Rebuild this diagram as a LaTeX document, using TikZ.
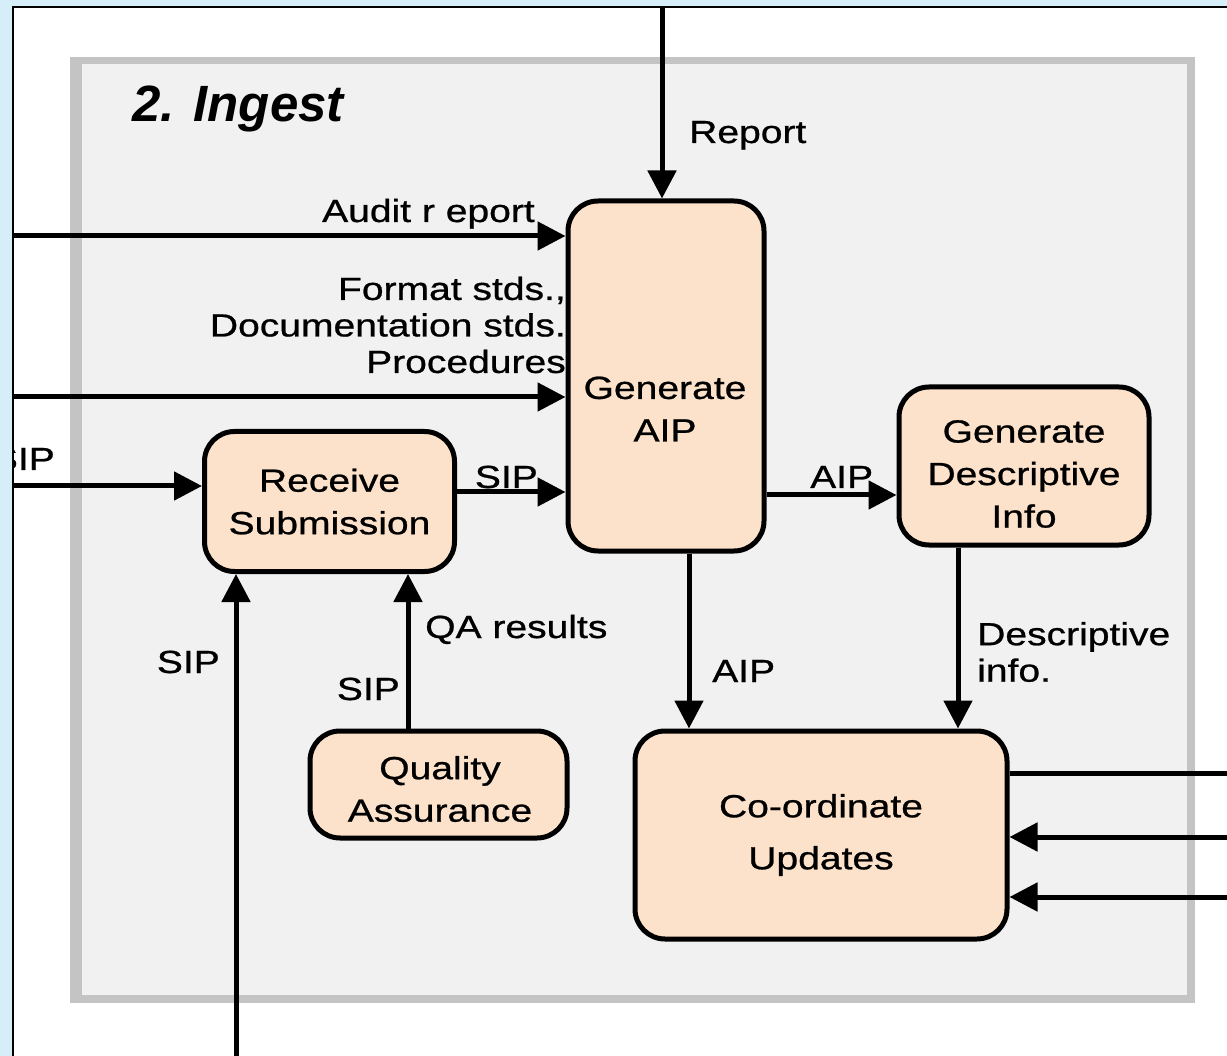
\documentclass[tikz,border=0pt]{standalone}
\usepackage{fontspec}
\setmainfont{Liberation Sans}[FakeStretch=1.22,FakeBold=0.8]
\newfontfamily\titlefont{Liberation Sans}
\usetikzlibrary{arrows.meta}
\definecolor{bgblue}{RGB}{214,238,247}
\definecolor{panelborder}{RGB}{196,196,196}
\definecolor{panelfill}{RGB}{241,241,241}
\definecolor{peach}{RGB}{252,226,202}
\newcommand\procfont{\fontsize{32}{42.5}\selectfont}
\newcommand\labfont{\fontsize{32}{36.5}\selectfont}
\begin{document}
\begin{tikzpicture}[x=1pt,y=-1pt,
  proc/.style={draw=black,line width=5pt,fill=peach,rounded corners=30pt,align=center,inner sep=0pt,font=\procfont},
  proctext/.style={font=\procfont,align=center,inner sep=0pt},
  flow/.style={line width=5pt,-{Triangle[length=28pt,width=28pt]}},
  plainline/.style={line width=5pt},
  lbl/.style={font=\labfont,inner sep=0pt}]
\useasboundingbox (0,0) rectangle (1227,1056);
\fill[bgblue] (0,0) rectangle (1227,1056);
\fill[white] (13,7) rectangle (1240,1070);
\draw[line width=2.5pt] (13,1070) -- (13,7) -- (1240,7);
\begin{scope}
\clip (14,8) rectangle (1227,1056);
% panel
\fill[panelborder] (70,57) rectangle (1195,1003);
\fill[panelfill] (82,64) rectangle (1187,995);
\node[anchor=base west,inner sep=0pt,font={\titlefont\fontsize{51}{60}\selectfont\bfseries\itshape}] (title) at (132,122) {2. Ingest};
% labels
\node[lbl,anchor=base west] (lreport) at (689,143) {Report};
\node[lbl,anchor=base east] (laudit) at (535,222) {Audit r eport};
\node[lbl,anchor=east,align=right] (lformat) at (566,325) {Format stds.,\\Documentation stds.\\Procedures};
\node[lbl,anchor=base east] (lsipin) at (55,470) {SIP};
\node[lbl,anchor=base east] (lsipbot) at (220,673) {SIP};
\node[lbl,anchor=base east] (lsiprs) at (538,488) {SIP};
\node[lbl,anchor=base west] (lqa) at (425,638) {QA results};
\node[lbl,anchor=base east] (lsipqa) at (400,700) {SIP};
\node[lbl,anchor=base west] (laipgdi) at (810,488) {AIP};
\node[lbl,anchor=base west] (laipcu) at (712,682) {AIP};
\node[lbl,anchor=west,align=left] (ldesc) at (977,652) {Descriptive\\info.};
% boxes
\node[proc,minimum width=250pt,minimum height=140pt] (rs) at (329.5,501.5) {Receive\\Submission};
\node[proc,minimum width=196pt,minimum height=350pt] (gaip) at (666,376) {};
\node[proctext] (gaipT) at (665,409) {Generate\\AIP};
\node[proc,minimum width=250pt,minimum height=158pt] (gdi) at (1024,466) {};
\node[proctext] (gdiT) at (1024,474) {Generate\\Descriptive\\Info};
\node[proc,minimum width=257pt,minimum height=107pt] (qa) at (438.5,784.5) {};
\node[proctext] (qaT) at (440,789) {Quality\\Assurance};
\node[proc,minimum width=372pt,minimum height=208pt,font={\fontsize{32}{52}\selectfont}] (cu) at (821,835) {Co-ordinate\\Updates};
% free ends
\coordinate (topin) at (662,7);
\coordinate (auditin) at (13,236);
\coordinate (formatin) at (13,397);
\coordinate (sipin) at (13,486);
\coordinate (sipbot) at (236,1056);
\coordinate (yrs) at (0,492);
\coordinate (ygdi) at (0,495);
\coordinate (xqa) at (408,0);
\coordinate (xaip) at (689,0);
\coordinate (xgdi) at (958,0);
\coordinate (outA) at (1227,773);
\coordinate (inB) at (1227,837);
\coordinate (inC) at (1227,897);
% connectors
\draw[flow] (topin) -- (topin |- gaip.north);
\draw[flow] (auditin) -- (auditin -| gaip.west);
\draw[flow] (formatin) -- (formatin -| gaip.west);
\draw[flow] (sipin) -- (sipin -| rs.west);
\draw[flow] (sipbot) -- (sipbot |- rs.south);
\draw[flow] (rs.east |- yrs) -- (gaip.west |- yrs);
\draw[flow] (qa.north -| xqa) -- (rs.south -| xqa);
\draw[flow] (gaip.east |- ygdi) -- (gdi.west |- ygdi);
\draw[flow] (gaip.south -| xaip) -- (cu.north -| xaip);
\draw[flow] (gdi.south -| xgdi) -- (cu.north -| xgdi);
\draw[plainline] (cu.east |- outA) -- (outA);
\draw[flow] (inB) -- (inB -| cu.east);
\draw[flow] (inC) -- (inC -| cu.east);
\end{scope}
\end{tikzpicture}
\end{document}
